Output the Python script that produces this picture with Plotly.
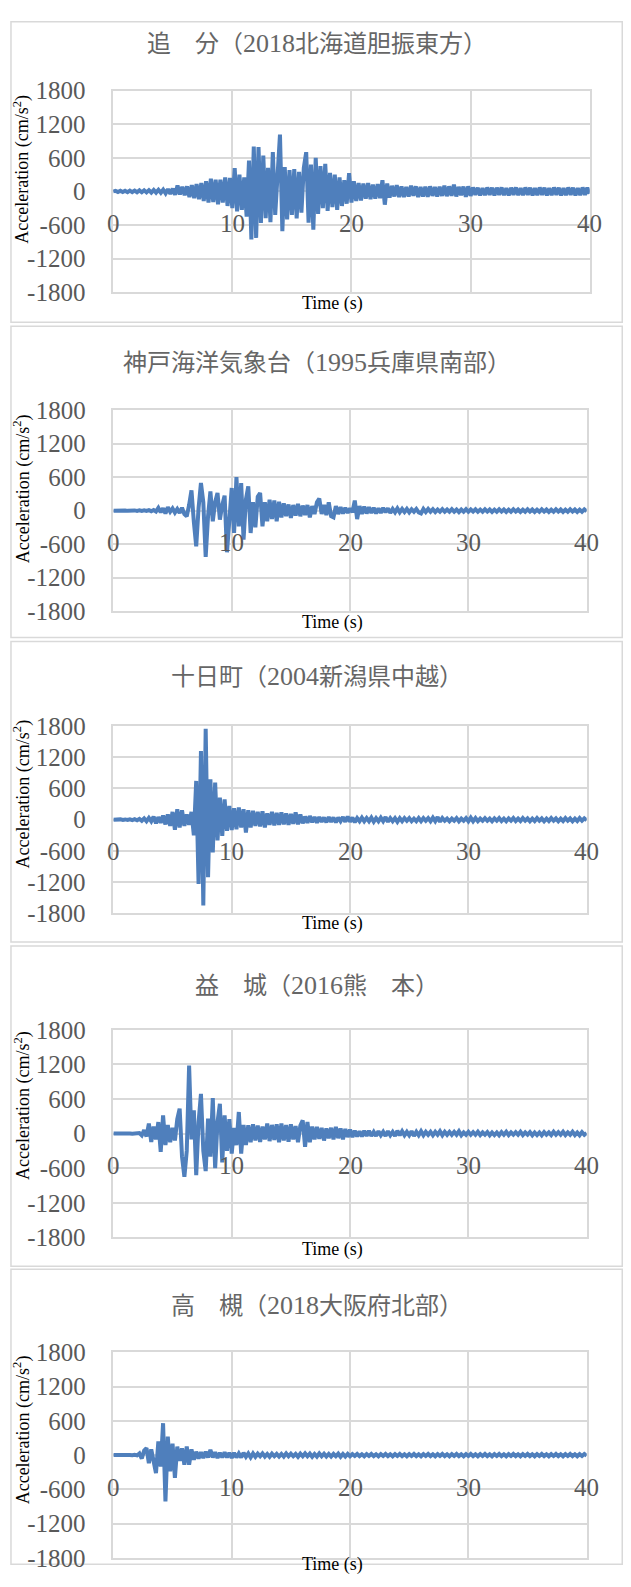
import re
import plotly.graph_objects as go

# ---------------- data ----------------
DT = 0.2  # sampling interval of the digitised records (s)

titles = [
    "追　分（2018北海道胆振東方）",
    "神戸海洋気象台（1995兵庫県南部）",
    "十日町（2004新潟県中越）",
    "益　城（2016熊　本）",
    "高　槻（2018大阪府北部）",
]

oiwake_acc = [
    0, 10, -10, 12, -12, 10, -14, 15, -12, 14, -15,
    18, -16, 20, -18, 22, -20, 25, -22, 28, -25,
    30, -35, 40, -45, 50, -60, 107, -55, 80, -70,
    90, -100, 110, -120, 130, -140, 150, -170, 180, -200,
    225, -190, 207, -230, 210, -200, 250, -260, 240, -300,
    415, -356, 300, -330, 250, -450, 550, -860, 800, -830,
    790, -563, 640, -480, 420, -550, 700, -420, 350, 1014,
    -712, 433, -500, 380, -420, 400, -480, 350, -380, 420,
    700, -560, 480, -682, 600, -400, 450, -300, 490, -350,
    330, -280, 300, -330, 250, -260, 200, -220, 326, -200,
    180, -170, 150, -160, 140, -130, 150, -140, 120, -130,
    130, -120, 200, -237, 140, -110, 100, -90, 110, -100,
    90, -100, 80, -90, 100, -80, 90, -100, 80, -90,
    85, -95, 90, -80, 80, -90, 85, -80, 100, -85,
    90, -80, 120, -90, 80, -70, 85, -95, 90, -80,
    70, -60, 65, -70, 60, -65, 70, -60, 65, -70,
    65, -60, 70, -65, 60, -70, 65, -60, 70, -65,
    60, -65, 70, -60, 65, -70, 60, -65, 70, -60,
    65, -70, 60, -65, 70, -60, 65, -70, 60, -65,
    70, -60, 65, -70, 60, -65, 70, -60, 65, -40,
]

kobe_acc = [
    0, 3, -3, 4, -3, 3, -4, 3, -3, 4, -4,
    5, -5, 6, -5, 8, -10, 12, -15, 50, -30,
    40, -50, 60, -20, 40, -35, 30, -40, 50, -60,
    -100, 100, 363, -200, -637, 50, 494, 150, -827, -100,
    345, -190, 150, 315, -160, 100, 268, -744, -200, 405,
    -400, 600, -280, 494, -518, 200, 434, -400, 150, -300,
    250, 315, -280, 150, -190, 196, -150, 180, -190, 160,
    -120, 130, -100, 110, -130, 100, -90, 120, -100, 90,
    -80, 100, -120, 80, -60, 150, 214, -60, 100, -80,
    150, -100, -120, 80, -60, 60, -50, 50, -40, 40,
    -30, 180, -150, 80, -60, 70, -50, 60, -40, 50,
    -50, 40, -40, 50, -30, 40, -40, 30, -30, 40,
    -30, 30, -25, 30, -30, 25, -20, 30, -30, -50,
    30, -25, 30, -20, 25, -25, 20, -20, 25, -20,
    20, -20, 25, -20, 20, -25, 20, -20, 25, -20,
    20, -18, 22, -20, 18, -20, 22, -18, 20, -22,
    18, -20, 22, -18, 20, -22, 18, -20, 22, -18,
    20, -22, 18, -20, 22, -18, 20, -22, 18, -20,
    22, -18, 20, -22, 18, -20, 22, -18, 20, -22,
    18, -20, 22, -18, 20, -22, 18, -20, 22, -10,
]

tokamachi_acc = [
    0, 5, -5, 6, -5, 5, -6, 8, -8, 10, -10,
    15, -20, 25, -30, 35, -30, 60, -70, 50, -60,
    80, -90, 100, -120, 150, -195, 200, -150, 180, -120,
    100, -100, 150, -300, 745, -1237, 1320, -1650, 1748, -1105,
    776, -630, 712, -400, 425, -310, 390, -215, 265, -200,
    220, -182, 233, -150, 200, -246, 180, -150, 170, -120,
    150, -130, 160, -150, 120, -100, 150, -110, 130, -100,
    140, -90, 120, -100, 110, -80, 140, -90, 100, -70,
    60, -60, 70, -50, 50, -60, 50, -40, 40, -50,
    50, -40, 40, -50, 40, -30, 50, -40, 60, -40,
    40, -50, 30, -30, 40, -30, 30, -30, 40, -40,
    30, -30, 40, -30, 50, -40, 30, -30, 30, -40,
    30, -30, 30, -20, 30, -30, 20, -30, 30, -30,
    30, -20, 30, -30, 40, -30, 50, -40, 30, -20,
    20, -30, 20, -20, 30, -30, 20, -20, 30, -30,
    40, -30, 30, -30, 20, -20, 30, -20, 20, -30,
    25, -20, 30, -25, 20, -30, 25, -20, 30, -25,
    20, -25, 30, -20, 25, -30, 20, -25, 30, -20,
    25, -30, 20, -25, 30, -20, 25, -30, 20, -25,
    30, -20, 25, -30, 20, -25, 30, -20, 25, -10,
]

mashiki_acc = [
    0, 2, -2, 3, -2, 3, -3, 2, -3, 3, -5,
    10, -30, 60, -50, 173, -144, 120, -100, 200, -317,
    317, -200, 150, -150, 100, -120, 250, 432, -400, -749,
    -300, 1180, -100, 403, -720, 200, 690, -300, -650, 260,
    -400, 616, -600, 200, 518, -500, 317, -300, 250, -346,
    100, -200, 374, -346, 150, -200, 144, -150, 160, -120,
    140, -144, 120, -100, 173, -130, 150, -110, 160, -150,
    173, -120, 150, -140, 160, -100, 130, -150, 140, 230,
    -230, 200, -150, 120, -100, 115, -90, 100, -120, 90,
    -80, 100, -100, 115, -80, 90, -100, 80, -60, 70,
    -60, 50, -50, 40, -50, 50, -40, 50, -40, 30,
    -40, 40, -30, 30, -40, 40, -30, 30, -40, 50,
    -30, 40, -30, 30, -30, 40, -40, 30, -30, 40,
    -30, 30, -20, 30, -30, 30, -20, 40, -30, 30,
    -20, 30, -20, 30, -20, 40, -30, 20, -20, 30,
    -20, 25, -20, 30, -25, 20, -20, 25, -30, 20,
    -25, 20, -30, 25, -20, 30, -25, 20, -20, 25,
    -20, 30, -25, 20, -20, 25, -30, 20, -25, 20,
    -30, 25, -20, 20, -25, 30, -20, 25, -20, 30,
    -25, 20, -20, 30, -25, 20, -30, 25, -20, 10,
]

takatsuki_acc = [
    0, 2, -2, 2, -2, 2, -2, 3, -3, 5, -5,
    30, -60, 80, 122, -140, 100, -100, -315, 240, -200,
    560, -810, 326, -285, 200, -400, 150, -100, 120, -170,
    150, -170, 100, -80, 60, -60, 50, -50, 60, -40,
    93, -40, 50, -50, 40, -40, 50, -40, 40, -50,
    40, -40, 30, -40, 40, -30, 30, -40, 30, -30,
    25, -20, 30, -25, 20, -30, 25, -20, 20, -25,
    20, -25, 30, -20, 25, -20, 20, -30, 25, -20,
    30, -20, 25, -30, 20, -25, 30, -20, 25, -25,
    20, -25, 20, -20, 25, -30, 20, -25, 20, -20,
    18, -15, 20, -18, 15, -20, 18, -15, 20, -18,
    15, -20, 18, -15, 20, -18, 15, -20, 18, -15,
    20, -18, 15, -20, 18, -15, 20, -18, 15, -20,
    18, -15, 20, -18, 15, -20, 18, -15, 20, -18,
    15, -20, 18, -15, 20, -18, 15, -20, 18, -15,
    20, -18, 15, -20, 18, -15, 20, -18, 15, -20,
    18, -15, 20, -18, 15, -20, 18, -15, 20, -18,
    15, -20, 18, -15, 20, -18, 15, -20, 18, -15,
    20, -18, 15, -20, 18, -15, 20, -18, 15, -20,
    18, -15, 20, -18, 15, -20, 18, -15, 20, -10,
]

records = [oiwake_acc, kobe_acc, tokamachi_acc, mashiki_acc, takatsuki_acc]

x_tick_vals = [0, 10, 20, 30, 40]
x_tick_text = ["0", "10", "20", "30", "40"]
y_tick_vals = [-1800, -1200, -600, 0, 600, 1200, 1800]
y_tick_text = ["-1800", "-1200", "-600", "0", "600", "1200", "1800"]
x_title = "Time (s)"
y_title = "Acceleration (cm/s<sup>2</sup>)"

# ---------------- layout geometry ----------------
PAGE_W = 631
BODY = 8                      # default page margin around the figure
W, H = PAGE_W - 2 * BODY, 1571

# target positions in the 631x1587 picture
geom = [
    dict(plot=(113.3, 587, 90, 292), title_y=43, ytitle_y=169, time_y=303, box=(11.7, 629, 5.7, 322)),
    dict(plot=(113.5, 584, 410, 611.7), title_y=362, ytitle_y=489, time_y=623, box=(11.7, 627, 326, 638)),
    dict(plot=(113.5, 584, 726.7, 914.3), title_y=677, ytitle_y=795, time_y=925, box=(11.7, 627, 642, 943)),
    dict(plot=(113.5, 584, 1031, 1239), title_y=987, ytitle_y=1107, time_y=1251, box=(11.7, 627, 947, 1268)),
    dict(plot=(113.5, 584, 1354.3, 1560), title_y=1307, ytitle_y=1432, time_y=1575, box=(11.7, 627, 1271, 1586)),
]

# picture -> page calibration (measured from earlier renders)
SY, OY = 0.9847, 12.4
SX, OX = 0.994, 0.8

def px(x):
    page = (x - OX) / SX
    return min(max((page - BODY) / W, 0.0012), 0.9988)

def py(y):
    page = (y - OY) / SY
    return min(max(1 - (page - BODY) / H, 0.0005), 0.9995)

LINE_COLOR = "#4F7FBC"
GRID = "#D9D9D9"
TICK_COLOR = "#595959"
TITLE_COLOR = "#666666"
SERIF = "Liberation Serif, Times New Roman, serif"
TITLE_FONT = "Liberation Serif, Noto Sans CJK JP, sans-serif"

def title_markup(s):
    return re.sub(r"(\d+)", r"<span style='font-size:26px'>\1</span>", s)

fig = go.Figure()
annotations = []
shapes = []

for i, (acc, g) in enumerate(zip(records, geom)):
    n = i + 1
    xa = "x" if n == 1 else f"x{n}"
    ya = "y" if n == 1 else f"y{n}"
    t = [round(k * DT, 2) for k in range(len(acc))]
    fig.add_trace(go.Scatter(
        x=t, y=acc, xaxis=xa, yaxis=ya, mode="lines",
        line=dict(color=LINE_COLOR, width=4), showlegend=False, hoverinfo="skip",
    ))
    l, r, top, bot = g["plot"]
    xkey = "xaxis" if n == 1 else f"xaxis{n}"
    ykey = "yaxis" if n == 1 else f"yaxis{n}"
    fig.layout[xkey] = dict(
        domain=[px(l), px(r)], range=[0, 40], anchor=ya,
        tickmode="array", tickvals=x_tick_vals, showticklabels=False,
        showgrid=True, gridcolor=GRID, gridwidth=1.5, zeroline=False,
        showline=True, mirror=True, linecolor=GRID, linewidth=1.5, ticks="",
    )
    fig.layout[ykey] = dict(
        domain=[py(bot), py(top)], range=[-1800, 1800], anchor=xa,
        tickmode="array", tickvals=y_tick_vals, ticktext=y_tick_text,
        showgrid=True, gridcolor=GRID, gridwidth=1.5, zeroline=False,
        showline=True, mirror=True, linecolor=GRID, linewidth=1.5,
        ticks="", ticklabelstandoff=21,
        tickfont=dict(family=SERIF, size=25, color=TICK_COLOR),
    )
    for tv, tt in zip(x_tick_vals, x_tick_text):
        annotations.append(dict(
            text=tt, xref=xa, yref=ya, x=tv, y=0, yshift=-32,
            xanchor="center", yanchor="middle", showarrow=False,
            font=dict(family=SERIF, size=25, color=TICK_COLOR),
        ))
    annotations.append(dict(
        text=title_markup(titles[i]), xref="paper", yref="paper", x=px(316), y=py(g["title_y"]),
        xanchor="center", yanchor="middle", showarrow=False,
        font=dict(family=TITLE_FONT, size=24, color=TITLE_COLOR),
    ))
    annotations.append(dict(
        text=y_title, xref="paper", yref="paper", x=px(23), y=py(g["ytitle_y"]),
        xanchor="center", yanchor="middle", showarrow=False, textangle=-90,
        font=dict(family=SERIF, size=18, color="#000000"),
    ))
    annotations.append(dict(
        text=x_title, xref="paper", yref="paper", x=px(331), y=py(g["time_y"]),
        xanchor="center", yanchor="middle", showarrow=False,
        font=dict(family=SERIF, size=18, color="#000000"),
    ))
    bl, br, bt, bb = g["box"]
    shapes.append(dict(
        type="rect", xref="paper", yref="paper", x0=px(bl), x1=px(br), y0=py(bb), y1=py(bt),
        line=dict(color=GRID, width=1.5), layer="below",
    ))

fig.update_layout(
    width=W, height=H, margin=dict(l=0, r=0, t=0, b=0),
    paper_bgcolor="white", plot_bgcolor="white",
    annotations=annotations, shapes=shapes,
)

fig.write_html("out.html", config={"displayModeBar": False})
